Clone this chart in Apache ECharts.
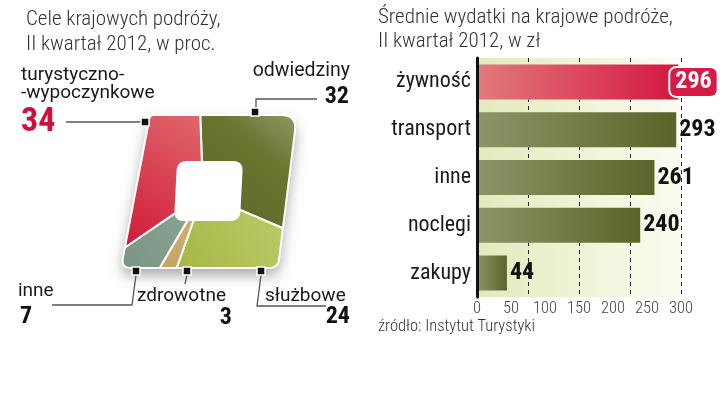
<!DOCTYPE html>
<html><head><meta charset="utf-8">
<script src="https://cdn.jsdelivr.net/npm/echarts/dist/echarts.min.js"></script>
<style>html,body{margin:0;padding:0;background:#fff}#c{width:720px;height:393px}</style>
</head><body><div id="c"></div>
<script>
// ---- data ----
const pieLabels = ['odwiedziny', 'służbowe', 'zdrowotne', 'inne', 'turystyczno-wypoczynkowe'];
const pieValues = [32, 24, 3, 7, 34];
const barCategories = ['żywność', 'transport', 'inne', 'noclegi', 'zakupy'];
const barValues = [296, 293, 261, 240, 44];
const xTicks = [0, 50, 100, 150, 200, 250, 300];
const gridTicks = [0, 75, 150, 225, 300];

// ---- helpers ----
const RC = '"Roboto Condensed", Roboto, sans-serif';
const RB = 'Roboto, "Noto Sans", sans-serif';
const G = echarts.graphic.LinearGradient;

function norm(x, y) { const l = Math.hypot(x, y); return [x / l, y / l]; }
function roundedPoly(c) {
  const pts = [], n = c.length;
  for (let i = 0; i < n; i++) {
    const P = c[i], A = c[(i - 1 + n) % n], B = c[(i + 1) % n], r = P[2];
    const ua = norm(A[0] - P[0], A[1] - P[1]), ub = norm(B[0] - P[0], B[1] - P[1]);
    const a = [P[0] + ua[0] * r, P[1] + ua[1] * r], b = [P[0] + ub[0] * r, P[1] + ub[1] * r];
    for (let k = 0; k <= 10; k++) {
      const t = k / 10;
      pts.push([(1 - t) * (1 - t) * a[0] + 2 * (1 - t) * t * P[0] + t * t * b[0],
                (1 - t) * (1 - t) * a[1] + 2 * (1 - t) * t * P[1] + t * t * b[1]]);
    }
  }
  return pts;
}
const CEN = [203, 194];
const START = -2;
const outerPoly = roundedPoly([[150, 115, 4], [297, 115, 16], [278, 268, 9], [121, 268, 10]]);
const holePoly = roundedPoly([[178, 162, 9], [242, 162, 9], [239, 220, 9], [175, 220, 9]]);
function rayHit(poly, deg) {
  const th = deg * Math.PI / 180, dx = Math.sin(th), dy = -Math.cos(th);
  let best = Infinity;
  for (let i = 0; i < poly.length; i++) {
    const p = poly[i], q = poly[(i + 1) % poly.length];
    const ex = q[0] - p[0], ey = q[1] - p[1];
    const den = dx * ey - dy * ex;
    if (Math.abs(den) < 1e-9) continue;
    const wx = p[0] - CEN[0], wy = p[1] - CEN[1];
    const t = (wx * ey - wy * ex) / den;
    const s = (wx * dy - wy * dx) / den;
    if (t > 0 && s >= -1e-9 && s <= 1 + 1e-9 && t < best) best = t;
  }
  return [CEN[0] + dx * best, CEN[1] + dy * best];
}
const total = pieValues.reduce((a, b) => a + b, 0);
const sliceFills = [
  new G(1, 0, 0, 1, [{offset: 0, color: '#8f9a66'}, {offset: 0.35, color: '#69742f'}, {offset: 1, color: '#5c672a'}]),
  new G(1, 0, 0, 1, [{offset: 0, color: '#bccb68'}, {offset: 1, color: '#a6b646'}]),
  new G(0, 0, 0, 1, [{offset: 0, color: '#d0b070'}, {offset: 1, color: '#c4a464'}]),
  new G(1, 0, 0, 1, [{offset: 0, color: '#8aa394'}, {offset: 1, color: '#7a9484'}]),
  new G(1, 0, 0, 1, [{offset: 0, color: '#e0686c'}, {offset: 1, color: '#d0193a'}])
];

function txt(text, x, baseline, size, weight, color, align, fam) {
  return {type: 'text', x: x, y: baseline - 0.34 * size, z: 20,
    style: {text: text, fill: color, font: weight + ' ' + size + 'px ' + (fam || RC),
      align: align || 'left', verticalAlign: 'middle'}};
}
function marker(x, y) {
  return {type: 'rect', z: 20, shape: {x: x, y: y, width: 8, height: 8},
    style: {fill: '#111', stroke: '#fff', lineWidth: 1.5}};
}
function lead(points) {
  return {type: 'polyline', z: 19, shape: {points: points},
    style: {stroke: '#555', lineWidth: 1.3, fill: null}};
}

const graphics = [
  {type: 'polygon', z: 1, shape: {points: outerPoly},
    style: {fill: '#fff', shadowBlur: 14, shadowOffsetY: 7, shadowColor: 'rgba(0,0,0,0.35)'}},
  txt('Cele krajowych podróży,', 26, 27, 21, 300, '#333'),
  txt('II kwartał 2012, w proc.', 26, 52, 21, 300, '#333'),
  txt('Średnie wydatki na krajowe podróże,', 378, 25, 21, 300, '#333'),
  txt('II kwartał 2012, w zł', 378, 49, 21, 300, '#333'),
  txt('źródło: Instytut Turystyki', 378, 332, 16.5, 300, '#333'),
  // pie labels
  txt('turystyczno-', 21, 81.5, 19, 400, '#1a1a1a', 'left', RB),
  txt('-wypoczynkowe', 21, 100, 19, 400, '#1a1a1a', 'left', RB),
  txt(String(pieValues[4]), 21, 134, 34, 'bold', '#d0103a'),
  txt(pieLabels[0], 350, 78, 19.5, 400, '#1a1a1a', 'right', RB),
  txt(String(pieValues[0]), 349, 105, 24, 'bold', '#111', 'right'),
  txt(pieLabels[3], 18, 298, 19, 400, '#1a1a1a', 'left', RB),
  txt(String(pieValues[3]), 20, 325, 24, 'bold', '#111'),
  txt(pieLabels[2], 137, 303, 19, 400, '#1a1a1a', 'left', RB),
  txt(String(pieValues[2]), 232, 326, 24, 'bold', '#111', 'right'),
  txt(pieLabels[1], 265, 303, 19, 400, '#1a1a1a', 'left', RB),
  txt(String(pieValues[1]), 350, 325, 24, 'bold', '#111', 'right'),
  lead([[66, 122], [141, 122]]),
  lead([[256, 109], [256, 99], [317, 99]]),
  lead([[136, 275], [132, 305], [52, 305]]),
  lead([[187, 275], [185, 284]]),
  lead([[261, 275], [257, 306], [326, 306]]),
  marker(141, 118), marker(251, 108), marker(132, 267), marker(183, 267), marker(257, 267)
];

const chart = echarts.init(document.getElementById('c'));
chart.setOption({
  animation: false,
  graphic: graphics,
  grid: {left: 477, right: 39, top: 58, bottom: 96, show: true, borderWidth: 0,
    backgroundColor: new G(0, 0, 1, 0, [{offset: 0, color: '#e4e9bb'}, {offset: 1, color: '#fcfcf2'}])},
  xAxis: [
    {type: 'value', min: xTicks[0], max: xTicks[xTicks.length - 1], interval: xTicks[1] - xTicks[0],
      axisLine: {show: false}, axisTick: {show: false}, splitLine: {show: false},
      axisLabel: {color: '#444', fontSize: 16.5, fontFamily: RC, fontWeight: 300, margin: 3}},
    {type: 'value', min: gridTicks[0], max: gridTicks[gridTicks.length - 1], interval: gridTicks[1] - gridTicks[0],
      position: 'bottom', axisLine: {show: false}, axisTick: {show: false}, axisLabel: {show: false},
      splitLine: {show: true, lineStyle: {color: '#222', width: 1, type: [4, 4]}}}
  ],
  yAxis: {type: 'category', data: barCategories, inverse: true, z: 5,
    axisLine: {show: true, lineStyle: {color: '#111', width: 3}},
    axisTick: {show: false},
    axisLabel: {color: '#1a1a1a', fontSize: 22, fontFamily: RC, margin: 6}},
  series: [
    {type: 'custom', coordinateSystem: 'none', silent: true, z: 3,
      data: pieValues.map((v, i) => ({value: v, name: pieLabels[i]})),
      renderItem: function (params, api) {
        const i = params.dataIndex;
        let before = 0;
        for (let k = 0; k < i; k++) before += pieValues[k];
        const a0 = START + before / total * 360;
        const a1 = a0 + api.value(0) / total * 360;
        const steps = Math.max(2, Math.ceil((a1 - a0) / 0.5));
        const pts = [];
        for (let k = 0; k <= steps; k++) pts.push(rayHit(outerPoly, a0 + (a1 - a0) * k / steps));
        for (let k = steps; k >= 0; k--) pts.push(rayHit(holePoly, a0 + (a1 - a0) * k / steps));
        return {type: 'polygon', shape: {points: pts},
          style: {fill: sliceFills[i], stroke: '#fff', lineWidth: 2, lineJoin: 'round'}};
      }},
    {type: 'bar', barWidth: 35, z: 3,
      itemStyle: {color: new G(0, 0, 1, 0, [{offset: 0, color: '#8e9468'}, {offset: 1, color: '#5a6429'}])},
      label: {show: true, position: 'right', distance: 3, fontFamily: RC, fontWeight: 'bold',
        fontSize: 24, color: '#111'},
      data: barValues.map((v, i) => i === 0 ? {
        value: v,
        itemStyle: {color: new G(0, 0, 1, 0, [{offset: 0, color: '#e27a7e'}, {offset: 1, color: '#d4173f'}])},
        label: {color: '#fff', backgroundColor: '#d41c46', borderColor: '#fff', borderWidth: 2,
          borderRadius: 6, padding: [3, 5, 1, 5], offset: [-11, 0]}
      } : {value: v})}
  ]
});
</script></body></html>
